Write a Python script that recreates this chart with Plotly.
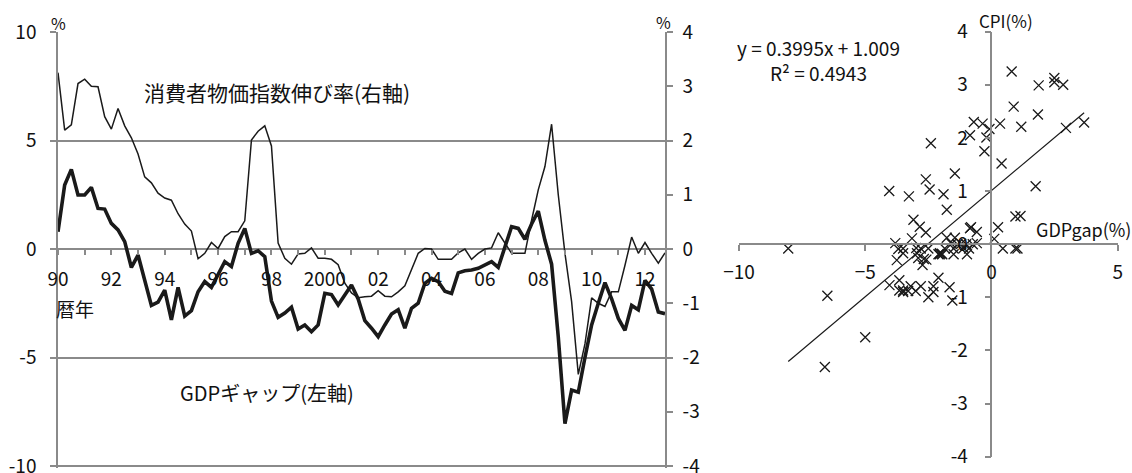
import plotly.graph_objects as go

# ---- data (quarterly, 1990Q1 - 2012Q4) ----
years = list(range(1990, 2013))
quarters = [f"{y}Q{q}" for y in years for q in range(1, 5)]

gdp_gap = [0.80, 2.95, 3.67, 2.49, 2.49, 2.84, 1.87, 1.84, 1.18, 0.88,
           0.34, -0.85, -0.28, -1.45, -2.60, -2.45, -1.90, -3.27, -1.77, -3.09,
           -2.84, -1.97, -1.50, -1.77, -1.20, -0.58, -0.81, 0.26, 0.95, -0.20,
           -0.08, -0.35, -2.40, -3.15, -2.95, -2.68, -3.69, -3.50, -3.81, -3.50,
           -2.04, -2.10, -2.58, -2.10, -1.66, -2.30, -3.30, -3.65, -4.04, -3.50,
           -3.00, -2.80, -3.65, -2.73, -2.50, -1.58, -1.35, -1.50, -1.95, -2.05,
           -1.10, -1.00, -0.97, -0.89, -0.74, -0.58, -0.85, 0.11, 1.03, 0.95,
           0.45, 1.15, 1.75, 0.40, -0.70, -4.05, -8.05, -6.50, -6.60, -5.00,
           -3.50, -2.50, -1.55, -2.30, -3.20, -3.75, -2.60, -2.80, -1.45, -1.85,
           -2.90, -2.98]

cpi = [3.25, 2.19, 2.29, 3.05, 3.13, 3.00, 2.99, 2.44, 2.21, 2.59,
       2.27, 2.05, 1.75, 1.33, 1.22, 1.03, 0.94, 0.90, 0.65, 0.46,
       0.33, -0.18, -0.08, 0.12, 0.01, 0.23, 0.32, 0.32, 0.52, 2.01,
       2.17, 2.27, 1.90, 0.11, -0.17, -0.28, -0.09, -0.08, 0.02, -0.17,
       -0.17, -0.19, -0.29, -0.63, -0.81, -0.90, -0.88, -0.87, -0.77, -0.87,
       -0.88, -0.79, -0.68, -0.39, -0.08, 0.01, 0.00, -0.19, -0.19, -0.19,
       -0.07, 0.00, -0.19, -0.08, 0.00, 0.02, 0.30, 0.10, -0.08, -0.08,
       -0.08, 0.53, 1.09, 1.52, 2.30, 1.00, -0.08, -0.97, -2.31, -1.75,
       -0.90, -1.00, -1.06, -0.79, -0.79, -0.30, 0.22, -0.08, 0.12, -0.08,
       -0.26, -0.07]

year_tick_labels = ["90", "92", "94", "96", "98", "2000", "02", "04", "06", "08", "10", "12"]
left_ticks = [-10, -5, 0, 5, 10]
right_ticks = [-4, -3, -2, -1, 0, 1, 2, 3, 4]
scatter_x_ticks = [-10, -5, 0, 5]

trend_slope = 0.3995
trend_intercept = 1.009
r_squared = 0.4943

# ---- styling ----
FONT = "Noto Sans CJK JP"
GREY = "#8a8a8a"
INK = "#1a1a1a"

year_tickvals = quarters[::4]
year_ticktext = []
for k in range(len(year_tickvals)):
    year_ticktext.append(year_tick_labels[k // 2] if k % 2 == 0 else "")

W, H = 1132, 473
def px_x(p):
    return p / W
def px_y(p):
    return 1 - p / H

# left panel: value 10 at y=32px, value -10 at y=466px; a tiny pad below -10 so its gridline shows
L_PAD = 0.1                      # in left-axis units
L_UNIT = (466 - 32) / 20.0       # px per left-axis unit
L_X0, L_X1 = px_x(58), px_x(665)
L_Y0, L_Y1 = px_y(466 + L_PAD * L_UNIT), px_y(32)
L_RANGE = [-10 - L_PAD, 10]
R2_RANGE = [-4 - L_PAD * 0.4, 4]
ZERO_Y = px_y(249)

R_X0, R_X1 = px_x(739), px_x(1117.7)
R_Y0, R_Y1 = px_y(456.7), px_y(31.7)

fig = go.Figure()

fig.add_trace(go.Scatter(x=quarters, y=gdp_gap, mode="lines", xaxis="x", yaxis="y",
                         line=dict(color=INK, width=3.6), name="GDPギャップ"))
fig.add_trace(go.Scatter(x=quarters, y=cpi, mode="lines", xaxis="x", yaxis="y2",
                         line=dict(color=INK, width=1.5), name="消費者物価指数伸び率"))

fig.add_trace(go.Scatter(x=gdp_gap, y=cpi, mode="markers", xaxis="x3", yaxis="y3",
                         marker=dict(symbol="x-thin", size=10,
                                     line=dict(color=INK, width=1.3)),
                         name="scatter"))
tx = [min(gdp_gap), max(gdp_gap)]
ty = [trend_slope * v + trend_intercept for v in tx]
fig.add_trace(go.Scatter(x=tx, y=ty, mode="lines", xaxis="x3", yaxis="y3",
                         line=dict(color=INK, width=1.2), name="trend"))

tickfont = dict(family=FONT, size=19, color="#111")

fig.update_layout(
    template="none",
    width=W, height=H,
    margin=dict(l=0, r=0, t=0, b=0, pad=0),
    paper_bgcolor="white", plot_bgcolor="white",
    showlegend=False,
    font=dict(family=FONT, color="#111"),
    xaxis=dict(domain=[L_X0, L_X1], type="category", range=[0, len(quarters) - 1],
               anchor="free", position=ZERO_Y, automargin=False,
               tickmode="array", tickvals=year_tickvals, ticktext=year_ticktext,
               ticks="outside", ticklen=5, tickwidth=1.5, tickcolor=GREY,
               ticklabelstandoff=8, ticklabeloverflow="allow",
               showline=False, showgrid=False, zeroline=False, tickfont=tickfont),
    yaxis=dict(domain=[L_Y0, L_Y1], range=L_RANGE, anchor="x", automargin=False,
               tickmode="array", tickvals=left_ticks, ticktext=[str(v) for v in left_ticks],
               ticks="outside", ticklen=6, tickwidth=1.5, tickcolor=GREY,
               ticklabelstandoff=10, ticklabeloverflow="allow",
               showgrid=True, gridcolor=GREY, gridwidth=1.5,
               zeroline=True, zerolinecolor=GREY, zerolinewidth=1.5,
               showline=True, linecolor=GREY, linewidth=1.5, tickfont=tickfont),
    yaxis2=dict(range=R2_RANGE, overlaying="y", side="right", anchor="x", automargin=False,
                tickmode="array", tickvals=right_ticks, ticktext=[str(v) for v in right_ticks],
                ticks="outside", ticklen=6, tickwidth=1.5, tickcolor=GREY,
                ticklabelstandoff=6, ticklabeloverflow="allow",
                showgrid=False, zeroline=False,
                showline=True, linecolor=GREY, linewidth=1.5, tickfont=tickfont),
    xaxis3=dict(domain=[R_X0, R_X1], range=[-10, 5], anchor="free", automargin=False,
                position=(R_Y0 + R_Y1) / 2,
                tickmode="array", tickvals=scatter_x_ticks,
                ticktext=[("\u2212" + str(-v)) if v < 0 else str(v) for v in scatter_x_ticks],
                ticks="outside", ticklen=6, tickwidth=1.5, tickcolor=GREY,
                ticklabelstandoff=5, ticklabeloverflow="allow",
                showline=True, linecolor=GREY, linewidth=1.5,
                showgrid=False, zeroline=False, tickfont=tickfont),
    yaxis3=dict(domain=[R_Y0, R_Y1], range=[-4, 4], anchor="free", automargin=False,
                position=R_X0 + (R_X1 - R_X0) * (10 / 15),
                tickmode="array", tickvals=right_ticks, ticktext=[str(v) for v in right_ticks],
                ticks="outside", ticklen=6, tickwidth=1.5, tickcolor=GREY,
                ticklabelstandoff=13, ticklabeloverflow="allow",
                showline=True, linecolor=GREY, linewidth=1.5,
                showgrid=False, zeroline=False, tickfont=tickfont),
)

def note(text, x, y, size=19, xanchor="center"):
    fig.add_annotation(text=text, x=px_x(x), y=px_y(y), xref="paper", yref="paper",
                       showarrow=False, xanchor=xanchor, yanchor="middle",
                       font=dict(family=FONT, size=size, color="#111"))

note("%", 58, 23, size=16)
note("%", 663, 22, size=16)
note("消費者物価指数伸び率(右軸)", 277, 92, size=21)
note("GDPギャップ(左軸)", 267, 392, size=20)
note("暦年", 75, 308, size=19)
note(f"y = {trend_slope}x + {trend_intercept}<br>R² = {r_squared}", 818, 60, size=19)
note("CPI(%)", 1006, 20, size=17)
note("GDPgap(%)", 1083, 229, size=18)

fig.write_html(
    "out.html",
    config={"displayModeBar": False},
    post_script="document.documentElement.style.margin='0';"
                "document.body.style.margin='0';"
                "document.body.style.overflow='hidden';",
)
